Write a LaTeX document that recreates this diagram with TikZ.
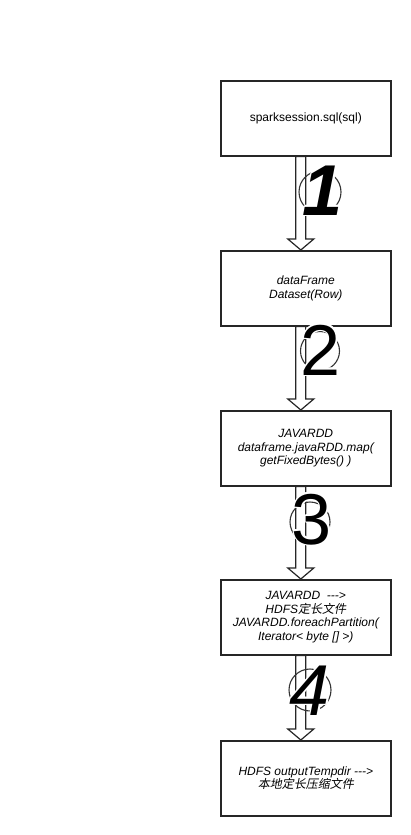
\documentclass[tikz,border=0pt]{standalone}
\usepackage{fontspec}
\setmainfont{Liberation Sans}
\newfontfamily\cjk[FakeSlant=0.2]{Noto Sans CJK SC}
\usetikzlibrary{calc}
\tikzset{
  box/.style={draw=black!85, line width=1.6pt, minimum width=170pt, minimum height=75pt, inner sep=2pt, align=center, font=\fontsize{12}{13.6}\selectfont, anchor=north west},
  ring/.style={draw=black!80, line width=1.1pt, circle, inner sep=0pt, fill=none},
  digit/.style={font=\fontsize{72}{72}\selectfont, inner sep=0pt, anchor=base},
  blockarrow/.style={draw=black!85, line width=1.2pt, fill=white, line join=miter},
}
\newcommand\halodigit[3]{%
  \foreach \a in {0,30,...,330} {\node[digit,white] at ($(#1)+(\a:1.8)$) {#3};}
  \node[digit] (#2) at (#1) {#3};}
\newcommand\hollowarrow[2]{%
  \draw[blockarrow] let \p1=(#1.south), \p2=(#2.north) in
    (\x1-10pt,\y1) -- (\x1-10pt,\y2+11pt) -- (\x1-18pt,\y2+11pt) -- (\x1-5pt,\y2)
    -- (\x1+8pt,\y2+11pt) -- (\x1+0pt,\y2+11pt) -- (\x1+0pt,\y1) -- cycle;}
\begin{document}
\begin{tikzpicture}[x=1pt,y=-1pt]
\useasboundingbox[fill=white] (0,0) rectangle (410,835);
\node[box] (b1) at (220,80) {sparksession.sql(sql)};
\node[box] (b2) at (220,250) {\itshape dataFrame\\\itshape Dataset(Row)};
\node[box] (b3) at (220,410) {\itshape JAVARDD\\\itshape dataframe.javaRDD.map(\\\itshape getFixedBytes() )};
\node[box] (b4) at (220,579) {\itshape JAVARDD\ \ -{}-{}->\\\itshape HDFS{\cjk 定长文件}\\\itshape JAVARDD.foreachPartition(\\\itshape Iterator< byte [] >)};
\node[box] (b5) at (220,740) {\itshape HDFS outputTempdir -{}-{}->\\{\cjk 本地定长压缩文件}};
\hollowarrow{b1}{b2}
\hollowarrow{b2}{b3}
\hollowarrow{b3}{b4}
\hollowarrow{b4}{b5}
\node[ring, minimum size=42pt] (c1) at (320,192) {};
\node[ring, minimum size=39pt] (c2) at (320,351) {};
\node[ring, minimum size=40pt] (c3) at (310,522) {};
\node[ring, minimum size=42pt] (c4) at (310,690) {};
\halodigit{323,215}{d1}{\itshape\bfseries 1}
\halodigit{321,375}{d2}{2}
\halodigit{312,544}{d3}{3}
\halodigit{310,715}{d4}{\itshape 4}
\end{tikzpicture}
\end{document}
